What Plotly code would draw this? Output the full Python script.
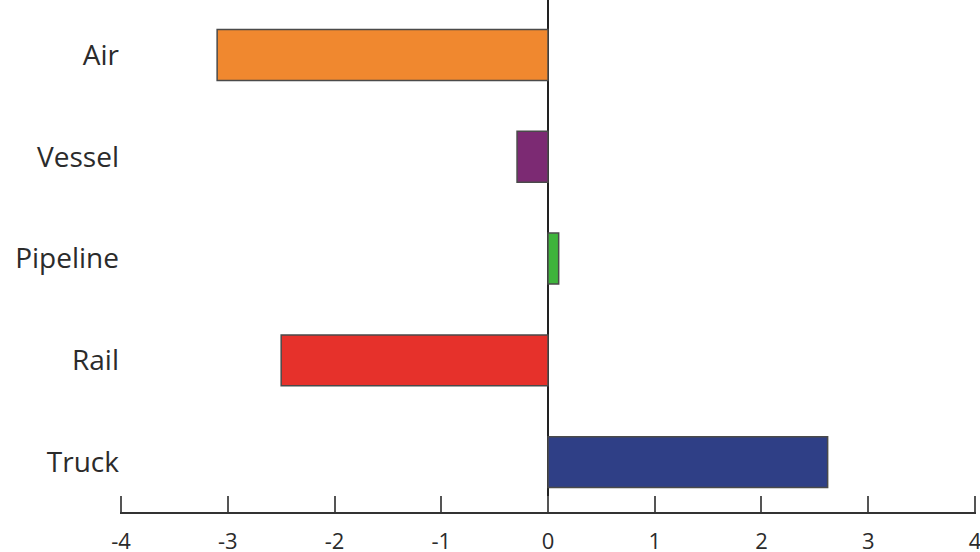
import plotly.graph_objects as go

modes = ['Truck', 'Rail', 'Pipeline', 'Vessel', 'Air']
change = [2.62, -2.5, 0.1, -0.29, -3.1]
bar_colors = ['#2f3f86', '#e6312b', '#3fb43c', '#7c2a73', '#f0882f']
x_ticks = [-4, -3, -2, -1, 0, 1, 2, 3, 4]

fig = go.Figure(
    go.Bar(
        x=change,
        y=modes,
        orientation='h',
        width=0.5,
        marker=dict(color=bar_colors, line=dict(color='#4a4a4a', width=1.5)),
        cliponaxis=False,
    )
)

font_family = 'Open Sans, Noto Sans, sans-serif'

fig.update_layout(
    width=980,
    height=552,
    margin=dict(l=120, r=4, t=0, b=40),
    plot_bgcolor='white',
    paper_bgcolor='white',
    showlegend=False,
    font=dict(family=font_family, size=28, color='#2b2b2b'),
)

# range padded a hair so the end ticks at -4 and 4 still get drawn
fig.update_xaxes(
    range=[-4.01, 4.01],
    automargin=False,
    tickvals=x_ticks,
    ticktext=[str(v) for v in x_ticks],
    showgrid=False,
    showline=True,
    linecolor='#333333',
    linewidth=2,
    ticks='inside',
    ticklen=16,
    tickwidth=2,
    tickcolor='#555555',
    ticklabelstandoff=9,
    ticklabeloverflow='allow',
    zeroline=True,
    zerolinecolor='#222222',
    zerolinewidth=2,
    tickfont=dict(size=22),
)

fig.update_yaxes(
    range=[-0.49, 4.54],
    automargin=False,
    showgrid=False,
    showline=False,
    ticks='',
    tickfont=dict(size=28),
)

# the default page has an 8px body margin, drop it so the figure fills the window
fig.write_html(
    'out.html',
    config={'displayModeBar': False},
    post_script="document.body.style.margin='0';",
)
